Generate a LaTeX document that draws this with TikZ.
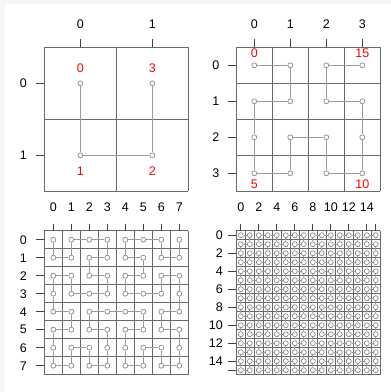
\documentclass[tikz,border=0pt]{standalone}
\usepackage{fontspec}
\setmainfont{Liberation Sans}
\usepackage{xcolor}
\usepackage{tikz}
\usetikzlibrary{positioning}

\definecolor{gridgray}{HTML}{686868}
\definecolor{curvegray}{HTML}{9A9A9A}
\definecolor{ptgray}{HTML}{8A8A8A}
\definecolor{bgstrip}{HTML}{F7F5F9}

% Hilbert curve: cell of step #2 on a #1 x #1 grid -> \hcX (column), \hcY (row)
\newcount\hcX \newcount\hcY \newcount\hcT \newcount\hcS
\newcount\hcRx \newcount\hcRy \newcount\hcTmp
\newcommand\hilbertxy[2]{%
  \hcX=0 \hcY=0 \hcT=#2\relax \hcS=1
  \loop\ifnum\hcS<#1\relax
    \hcTmp=\hcT \divide\hcTmp by 2
    \hcRx=\hcTmp \divide\hcRx by 2 \multiply\hcRx by -2 \advance\hcRx by \hcTmp
    \hcRy=\hcT \divide\hcRy by 2 \multiply\hcRy by -2 \advance\hcRy by \hcT
    \ifnum\hcRy=\hcRx \hcRy=0 \else \hcRy=1 \fi
    \ifnum\hcRy=0
      \ifnum\hcRx=1
        \hcX=-\hcX \advance\hcX by \hcS \advance\hcX by -1
        \hcY=-\hcY \advance\hcY by \hcS \advance\hcY by -1
      \fi
      \hcTmp=\hcX \hcX=\hcY \hcY=\hcTmp
    \fi
    \hcTmp=\hcS \multiply\hcTmp by \hcRx \advance\hcX by \hcTmp
    \hcTmp=\hcS \multiply\hcTmp by \hcRy \advance\hcY by \hcTmp
    \divide\hcT by 4
    \multiply\hcS by 2
  \repeat}

\tikzset{
  gridline/.style={draw=gridgray, line width=0.95pt},
  hcurve/.style={draw=curvegray, line width=0.95pt},
  hpoint/.style={circle, draw=ptgray, line width=0.7pt, inner sep=0pt, minimum size=5pt},
  axtick/.style={draw=black!75, line width=0.8pt},
  axlab/.style={font=\fontsize{12.5}{14}\selectfont, inner sep=0pt},
  redlab/.style={axlab, text=red}
}

\begin{document}
\begin{tikzpicture}[x=1pt, y=-1pt]
  \useasboundingbox (0,0) rectangle (391,392);
  % Background
  \fill[white] (0,0) rectangle (391,392);
  \fill[bgstrip] (0,0) rectangle (391,4);
  \fill[bgstrip] (0,0) rectangle (5,392);

  % Panels: name / size / left / top / cell / top tick / left label gap / label step
  \foreach \pn/\N/\xo/\yo/\hcell/\ticklen/\lboff/\lstep in {
      1/2/44.3/47.3/72/8/17.3/1,
      2/4/236.3/47.3/36/8/16.8/1,
      3/8/44.3/230.7/18/6.5/17.3/1,
      4/16/236.3/230.7/9/6.5/13.3/2} {
    \begin{scope}[shift={(\xo,\yo)}, x=\hcell pt, y=-\hcell pt]
      \pgfmathtruncatemacro\nm{\N-1}
      \pgfmathtruncatemacro\last{\N*\N-1}
      % Grid
      \foreach \i in {0,...,\N} {
        \draw[gridline] (\i,0) -- (\i,\N);
        \draw[gridline] (0,\i) -- (\N,\i);
      }
      % Curve points
      \foreach \d in {0,...,\last} {
        \hilbertxy{\N}{\d}
        \node[hpoint] (p\pn-\d) at (\the\hcX+0.5, \the\hcY+0.5) {};
      }
      \foreach \d [remember=\d as \dp (initially 0)] in {1,...,\last}
        \draw[hcurve] (p\pn-\dp) -- (p\pn-\d);
      % Axes
      \foreach \i in {0,\lstep,...,\nm} {
        \draw[axtick] (\i+0.5,0) -- ([yshift=\ticklen pt]\i+0.5,0);
        \draw[axtick] (0,\i+0.5) -- ([xshift=-8.5pt]0,\i+0.5);
        \node[axlab] at ([yshift=23.5pt]\i+0.5,0) {\i};
        \node[axlab, anchor=east] at ([xshift=-\lboff pt]0,\i+0.5) {\i};
      }
      \ifnum\lstep>1
        \draw[axtick] (\nm+0.5,0) -- ([yshift=\ticklen pt]\nm+0.5,0);
        \draw[axtick] (0,\nm+0.5) -- ([xshift=-8.5pt]0,\nm+0.5);
      \fi
    \end{scope}
  }

  % Step numbers
  \node[redlab, above=7.2pt of p1-0] {0};
  \node[redlab, below=8.7pt of p1-1] {1};
  \node[redlab, below=8.7pt of p1-2] {2};
  \node[redlab, above=7.2pt of p1-3] {3};
  \node[redlab, above=4.2pt of p2-0] {0};
  \node[redlab, below=3.9pt of p2-5] {5};
  \node[redlab, below=3.9pt of p2-10] {10};
  \node[redlab, above=4.2pt of p2-15] {15};
\end{tikzpicture}
\end{document}
